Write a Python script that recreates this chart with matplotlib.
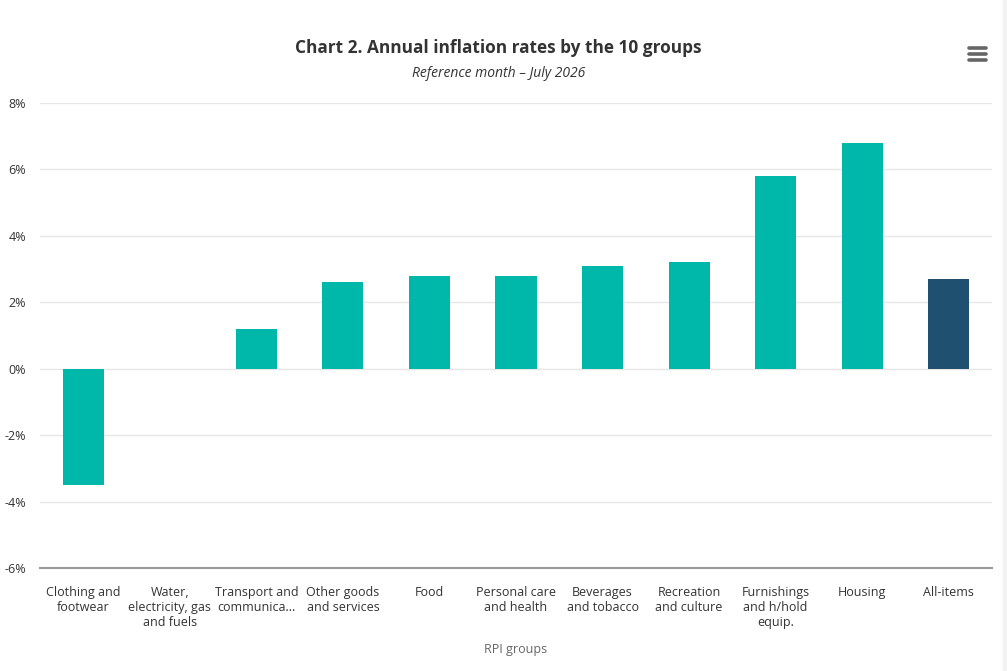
import matplotlib.pyplot as plt
from matplotlib.ticker import FuncFormatter
from matplotlib.lines import Line2D
from matplotlib.patches import Rectangle

groups = ['Clothing and\nfootwear', 'Water,\nelectricity, gas\nand fuels',
          'Transport and\ncommunica...', 'Other goods\nand services', 'Food',
          'Personal care\nand health', 'Beverages\nand tobacco',
          'Recreation\nand culture', 'Furnishings\nand h/hold\nequip.',
          'Housing', 'All-items']
rates = [-3.5, 0.0, 1.2, 2.6, 2.8, 2.8, 3.1, 3.2, 5.8, 6.8, 2.7]
colors = ['#00b8a9'] * 10 + ['#1f5070']
yticks = [-6, -4, -2, 0, 2, 4, 6, 8]

plt.rcParams['font.family'] = ['Open Sans', 'DejaVu Sans']

fig = plt.figure(figsize=(10.07, 6.71), dpi=100)
ax = fig.add_axes([40 / 1007, (671 - 568) / 671, 952 / 1007, 465 / 671])

x = range(len(groups))
ax.bar(x, rates, width=0.474, color=colors, zorder=3)

ax.set_ylim(-6, 8)
ax.set_xlim(-0.5, len(groups) - 0.5)
ax.set_yticks(yticks)
ax.yaxis.set_major_formatter(FuncFormatter(lambda v, p: '%d%%' % v))
ax.grid(axis='y', color='#e6e6e6', linewidth=1, zorder=0)
ax.set_xticks(list(x))
ax.set_xticklabels(groups, fontsize=9, color='#333333', linespacing=1.2, va='top')
ax.tick_params(axis='both', length=0, labelsize=9, colors='#333333')
ax.tick_params(axis='x', pad=13)
ax.tick_params(axis='y', pad=10)
for s in ['top', 'right', 'left']:
    ax.spines[s].set_visible(False)
ax.spines['bottom'].set_color('#999999')
ax.spines['bottom'].set_linewidth(1.5)
ax.spines['bottom'].set_zorder(4)

ax.set_xlabel('RPI groups', fontsize=9, color='#666666', labelpad=10)

fig.text(0.495, 0.929, 'Chart 2. Annual inflation rates by the 10 groups',
         ha='center', va='center', fontsize=12.4, fontweight='bold', color='#333333')
fig.text(0.495, 0.891, 'Reference month \u2013 July 2026', ha='center', va='center',
         fontsize=10, style='italic', color='#333333')

# menu icon
for yy in [47.5, 53.5, 59.5]:
    fig.add_artist(Line2D([969 / 1007, 986 / 1007], [1 - yy / 671, 1 - yy / 671],
                          color='#666666', linewidth=2.6, solid_capstyle='round'))

# light strip at right edge
fig.add_artist(Rectangle((1003 / 1007, 0), 4 / 1007, 1, transform=fig.transFigure,
                         color='#f2f2f2', zorder=0))

fig.savefig('out.png', dpi=100)
